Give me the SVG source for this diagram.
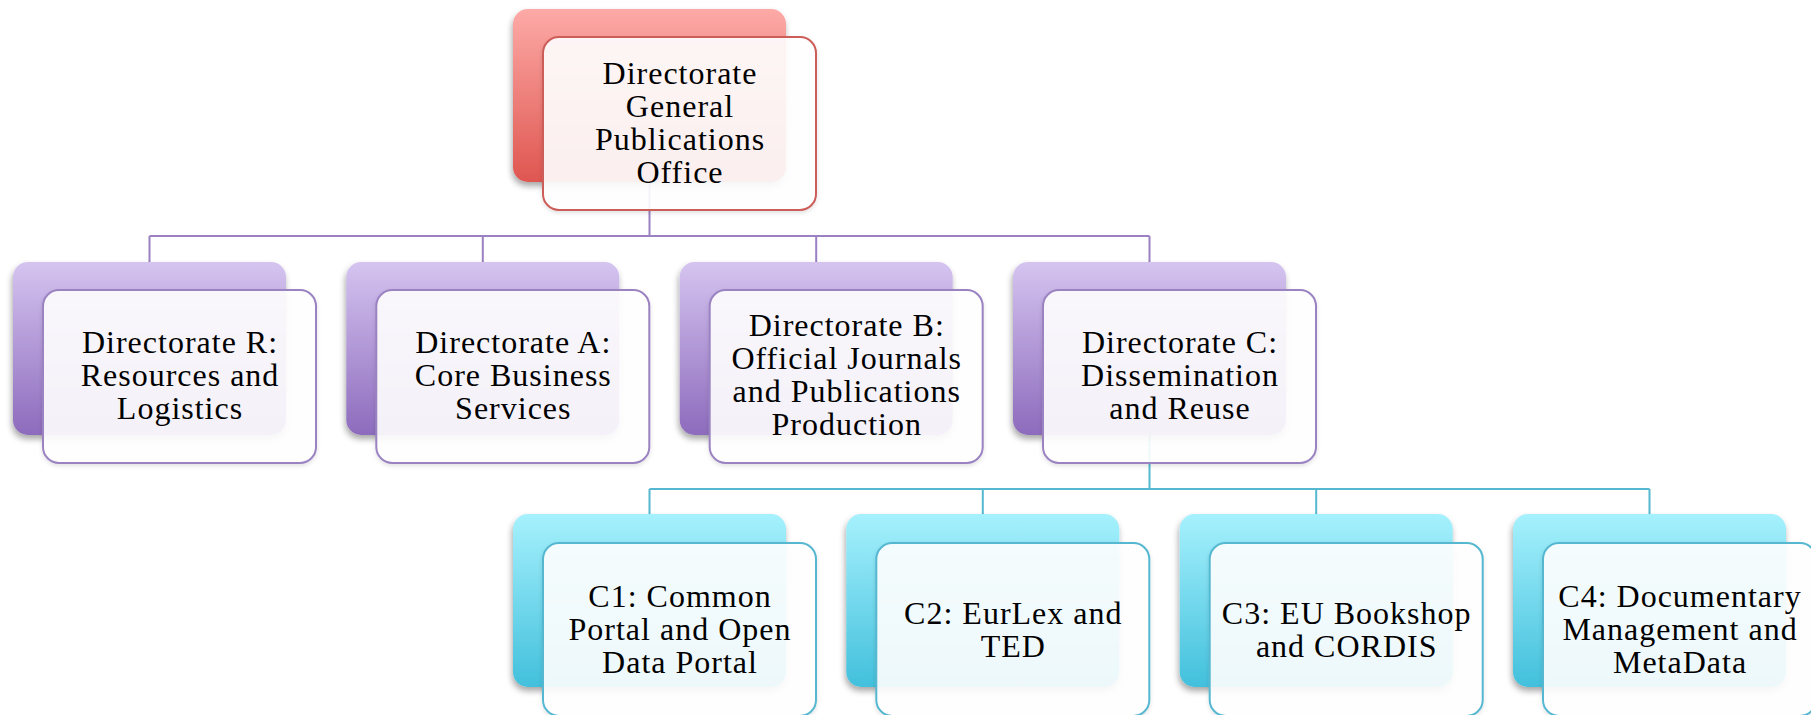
<svg xmlns="http://www.w3.org/2000/svg" width="1811" height="715" viewBox="0 0 1811 715">
<defs>
<linearGradient id="gRed" x1="0" y1="0" x2="0" y2="1"><stop offset="0" stop-color="#fdaaa7"/><stop offset="1" stop-color="#df5650"/></linearGradient>
<linearGradient id="gPur" x1="0" y1="0" x2="0" y2="1"><stop offset="0" stop-color="#d5c4f0"/><stop offset="1" stop-color="#8d6bbd"/></linearGradient>
<linearGradient id="gCyan" x1="0" y1="0" x2="0" y2="1"><stop offset="0" stop-color="#a6f1fd"/><stop offset="1" stop-color="#42c0dc"/></linearGradient>
<filter id="sh" x="-10%" y="-10%" width="120%" height="130%"><feDropShadow dx="-1" dy="4" stdDeviation="3" flood-color="#000" flood-opacity="0.35"/></filter>
<filter id="sh2" x="-10%" y="-10%" width="120%" height="130%"><feDropShadow dx="0" dy="2" stdDeviation="2" flood-color="#000" flood-opacity="0.12"/></filter>
</defs>
<style>
.back{filter:url(#sh)}
.front{fill:#fff;fill-opacity:0.9;stroke-width:2;filter:url(#sh2)}
.red .back{fill:url(#gRed)} .red .front{stroke:#cd5d59}
.pur .back{fill:url(#gPur)} .pur .front{stroke:#9b83c1}
.cy .back{fill:url(#gCyan)} .cy .front{stroke:#55b8d0}
text{font-family:"Liberation Serif","Times New Roman",serif;font-size:32px;letter-spacing:1px;fill:#000;text-anchor:middle}
.cp{fill:none;stroke:#9b80c2;stroke-width:2}
.cc{fill:none;stroke:#55b8d0;stroke-width:2}
</style>
<g id="connectors">
<path class="cp" d="M649.5 182V236M149.5 236H1149.5M149.5 236V262M482.8 236V262M816.2 236V262M1149.5 236V262"/>
<path class="cc" d="M1149.5 435V489M649.5 489H1649.5M649.5 489V514M982.8 489V514M1316.2 489V514M1649.5 489V514"/>
</g>
<g id="dg" class="red">
<rect class="back" x="513" y="9" width="273" height="173" rx="15"/>
<rect class="front" x="543" y="37" width="273" height="173" rx="16"/>
<text x="680" y="84">Directorate</text><text x="680" y="117">General</text><text x="680" y="150">Publications</text><text x="680" y="183">Office</text>
</g>
<g id="dirR" class="pur">
<rect class="back" x="13" y="262" width="273" height="173" rx="15"/>
<rect class="front" x="43" y="290" width="273" height="173" rx="16"/>
<text x="180" y="353">Directorate R:</text><text x="180" y="386">Resources and</text><text x="180" y="419">Logistics</text>
</g>
<g id="dirA" class="pur">
<rect class="back" x="346.3" y="262" width="273" height="173" rx="15"/>
<rect class="front" x="376.3" y="290" width="273" height="173" rx="16"/>
<text x="513.3" y="353">Directorate A:</text><text x="513.3" y="386">Core Business</text><text x="513.3" y="419">Services</text>
</g>
<g id="dirB" class="pur">
<rect class="back" x="679.7" y="262" width="273" height="173" rx="15"/>
<rect class="front" x="709.7" y="290" width="273" height="173" rx="16"/>
<text x="846.7" y="336">Directorate B:</text><text x="846.7" y="369">Official Journals</text><text x="846.7" y="402">and Publications</text><text x="846.7" y="435">Production</text>
</g>
<g id="dirC" class="pur">
<rect class="back" x="1013" y="262" width="273" height="173" rx="15"/>
<rect class="front" x="1043" y="290" width="273" height="173" rx="16"/>
<text x="1180" y="353">Directorate C:</text><text x="1180" y="386">Dissemination</text><text x="1180" y="419">and Reuse</text>
</g>
<g id="c1" class="cy">
<rect class="back" x="513" y="514" width="273" height="173" rx="15"/>
<rect class="front" x="543" y="543" width="273" height="173" rx="16"/>
<text x="680" y="607">C1: Common</text><text x="680" y="640">Portal and Open</text><text x="680" y="673">Data Portal</text>
</g>
<g id="c2" class="cy">
<rect class="back" x="846.3" y="514" width="273" height="173" rx="15"/>
<rect class="front" x="876.3" y="543" width="273" height="173" rx="16"/>
<text x="1013.3" y="624">C2: EurLex and</text><text x="1013.3" y="657">TED</text>
</g>
<g id="c3" class="cy">
<rect class="back" x="1179.7" y="514" width="273" height="173" rx="15"/>
<rect class="front" x="1209.7" y="543" width="273" height="173" rx="16"/>
<text x="1346.7" y="624">C3: EU Bookshop</text><text x="1346.7" y="657">and CORDIS</text>
</g>
<g id="c4" class="cy">
<rect class="back" x="1513" y="514" width="273" height="173" rx="15"/>
<rect class="front" x="1543" y="543" width="273" height="173" rx="16"/>
<text x="1680" y="607">C4: Documentary</text><text x="1680" y="640">Management and</text><text x="1680" y="673">MetaData</text>
</g>
</svg>
